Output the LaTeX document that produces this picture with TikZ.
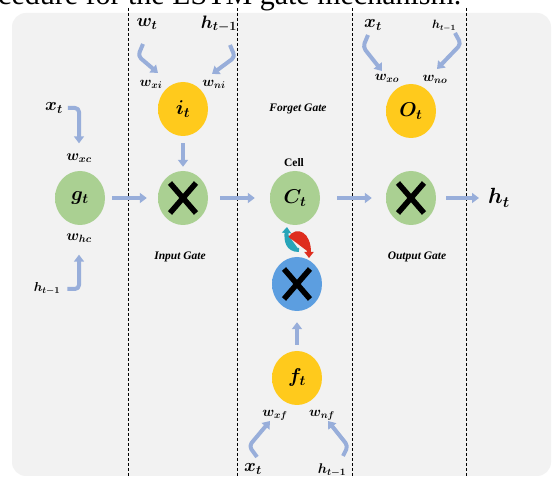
\RequirePackage{fix-cm}
\documentclass[tikz,border=0pt]{standalone}
\usepackage{amsmath}
\usepackage{fontspec}
\setmainfont{Liberation Serif}
\usetikzlibrary{arrows.meta,shapes.geometric,calc}

\definecolor{bgc}{RGB}{242,242,242}
\definecolor{arrc}{RGB}{152,174,218}
\definecolor{gin}{RGB}{170,208,146}
\definecolor{gout}{RGB}{146,190,124}
\definecolor{yin}{RGB}{255,202,28}
\definecolor{yout}{RGB}{234,160,0}
\definecolor{bin}{RGB}{92,158,224}
\definecolor{bout}{RGB}{52,112,192}
\definecolor{tealc}{RGB}{40,165,185}
\definecolor{redc}{RGB}{222,45,30}

\pgfdeclareradialshading{greenball}{\pgfpoint{0bp}{0bp}}{color(0bp)=(gin); color(34bp)=(gin); color(50bp)=(gout)}
\pgfdeclareradialshading{yellowball}{\pgfpoint{0bp}{0bp}}{color(0bp)=(yin); color(34bp)=(yin); color(50bp)=(yout)}
\pgfdeclareradialshading{blueball}{\pgfpoint{0bp}{0bp}}{color(0bp)=(bin); color(34bp)=(bin); color(50bp)=(bout)}

\newcommand{\bsym}[1]{$\boldsymbol{#1}$}

\begin{document}
\begin{tikzpicture}[x=1pt,y=-1pt,
  ball/.style={ellipse, minimum width=50pt, minimum height=54pt, inner sep=0pt,
    font=\fontsize{20}{20}\selectfont},
  gball/.style={ball, shade, shading=greenball},
  yball/.style={ball, shade, shading=yellowball},
  bball/.style={ball, shade, shading=blueball},
  xmark/.style={path picture={
     \draw[black, line width=5.5pt]
       ([shift={(-13pt,-15pt)}]path picture bounding box.center) -- ([shift={(13pt,15pt)}]path picture bounding box.center)
       ([shift={(-13pt,15pt)}]path picture bounding box.center) -- ([shift={(13pt,-15pt)}]path picture bounding box.center);}},
  lbl/.style={inner sep=1pt},
  l11/.style={lbl, font=\fontsize{12}{12}\selectfont},
  l12/.style={lbl, font=\fontsize{13}{13}\selectfont},
  l13/.style={lbl, font=\fontsize{14}{14}\selectfont},
  l14/.style={lbl, font=\fontsize{15}{15}\selectfont},
  l16/.style={lbl, font=\fontsize{18}{18}\selectfont},
  l20/.style={lbl, font=\fontsize{22}{22}\selectfont},
  gate/.style={inner sep=1pt, font=\fontsize{11.5}{12}\selectfont\bfseries\itshape},
  celltxt/.style={inner sep=1pt, font=\fontsize{11.5}{12}\selectfont\bfseries},
  arr/.style={draw=arrc, line width=4pt, line join=round, -{Triangle[length=7pt,width=10pt]}},
  dline/.style={black, line width=0.8pt, dash pattern=on 3pt off 2pt},
  twist/.style={line width=4pt, -{Triangle[length=6pt,width=9pt]}}
]
\useasboundingbox (0,0) rectangle (555,478);
\clip (0,0) rectangle (555,478);
\fill[white] (0,0) rectangle (555,478);
\fill[bgc, rounded corners=14pt] (12,13) rectangle (551,476);

% cropped caption at the top
\node[anchor=base west, inner sep=0pt, font=\fontsize{30}{30}\selectfont] (cap) at (-2,5) {cedure for the LSTM gate mechanism.};

% dashed separators
\foreach \xx in {128,237,352,466} \draw[dline] (\xx,8) -- (\xx,478);

% circles
\node[gball] (g) at (80,198) {\bsym{g_t}};
\node[yball] (i) at (183,109) {\bsym{i_t}};
\node[gball,xmark] (ix) at (183,198) {};
\node[gball] (c) at (295,198) {\bsym{C_t}};
\node[yball] (o) at (411,111) {\bsym{O_t}};
\node[gball,xmark] (ox) at (411,198) {};
\node[bball,xmark] (bx) at (297,284) {};
\node[yball] (f) at (297,378) {\bsym{f_t}};

% labels
\node[l16] (wt) at (147,24) {\bsym{w_t}};
\node[l16] (hti) at (219,24) {\bsym{h_{t-1}}};
\node[l16] (xto) at (373,25) {\bsym{x_t}};
\node[l11] (hto) at (444,26) {\bsym{h_{t-1}}};
\node[l13] (wxi) at (151,84) {\bsym{w_{xi}}};
\node[l13] (wni) at (214,84) {\bsym{w_{ni}}};
\node[l13] (wxo) at (387,78) {\bsym{w_{xo}}};
\node[l13] (wno) at (435,79) {\bsym{w_{no}}};
\node[l16] (xtl) at (54,108) {\bsym{x_t}};
\node[l14] (wxc) at (79,158) {\bsym{w_{xc}}};
\node[l14] (whc) at (79,238) {\bsym{w_{hc}}};
\node[l12] (htl) at (47,289) {\bsym{h_{t-1}}};
\node[l13] (wxf) at (275,415) {\bsym{w_{xf}}};
\node[l13] (wnf) at (322,415) {\bsym{w_{nf}}};
\node[l16] (xtb) at (253,469) {\bsym{x_t}};
\node[l13] (htb) at (332,470) {\bsym{h_{t-1}}};
\node[l20] (ht) at (499,198) {\bsym{h_t}};

\node[gate] (ig) at (180,257) {Input Gate};
\node[gate] (fg) at (298,109) {Forget Gate};
\node[gate] (og) at (417,257) {Output Gate};
\node[celltxt] (cell) at (294,163) {Cell};

% main flow arrows
\draw[arr, shorten <=7pt, shorten >=11pt] (g) -- (ix);
\draw[arr, shorten <=12pt, shorten >=15pt] (ix) -- (c);
\draw[arr, shorten <=17pt, shorten >=14pt] (c) -- (ox);
\draw[arr, shorten <=10pt, shorten >=8pt] (ox) -- (ht);
\draw[arr, shorten <=7pt, shorten >=4pt] (i) -- (ix);
\draw[arr, shorten <=6pt, shorten >=11pt] (f) -- (bx);

% hook arrows on the left
\draw[arr, rounded corners=4pt, shorten <=4pt, shorten >=9pt] (xtl.east) -| (wxc.north);
\draw[arr, rounded corners=4pt, shorten <=6pt, shorten >=11pt] (htl.east) -| (whc.south);

% bracket-shaped arrows
\coordinate (ia1) at (143,44); \coordinate (ia2) at (138,56); \coordinate (ia3) at (158,73);
\coordinate (ib1) at (230,45); \coordinate (ib2) at (235,57); \coordinate (ib3) at (212,74);
\coordinate (oa1) at (368,35); \coordinate (oa2) at (363,47); \coordinate (oa3) at (382,71);
\coordinate (ob1) at (455,33); \coordinate (ob2) at (461,44); \coordinate (ob3) at (437,69);
\coordinate (fa1) at (257,457); \coordinate (fa2) at (249,446); \coordinate (fa3) at (270,421);
\coordinate (fb1) at (343,456); \coordinate (fb2) at (348,446); \coordinate (fb3) at (328,421);
\draw[arr, rounded corners=4pt] (ia1) -- (ia2) -- (ia3);
\draw[arr, rounded corners=4pt] (ib1) -- (ib2) -- (ib3);
\draw[arr, rounded corners=4pt] (oa1) -- (oa2) -- (oa3);
\draw[arr, rounded corners=4pt] (ob1) -- (ob2) -- (ob3);
\draw[arr, rounded corners=4pt] (fa1) -- (fa2) -- (fa3);
\draw[arr, rounded corners=4pt] (fb1) -- (fb2) -- (fb3);

% twisted exchange arrows between cell and forget multiplier
\coordinate (ta) at (299,250); \coordinate (tb) at (287,227);
\coordinate (ra) at (290,238); \coordinate (rb) at (309,258);
\draw[twist, draw=tealc, fill=tealc] (ta) .. controls (287,250) and (286,240) .. (tb);
\draw[twist, draw=redc, fill=redc] (ra) .. controls (297,228) and (309,234) .. (rb);
\end{tikzpicture}
\end{document}
